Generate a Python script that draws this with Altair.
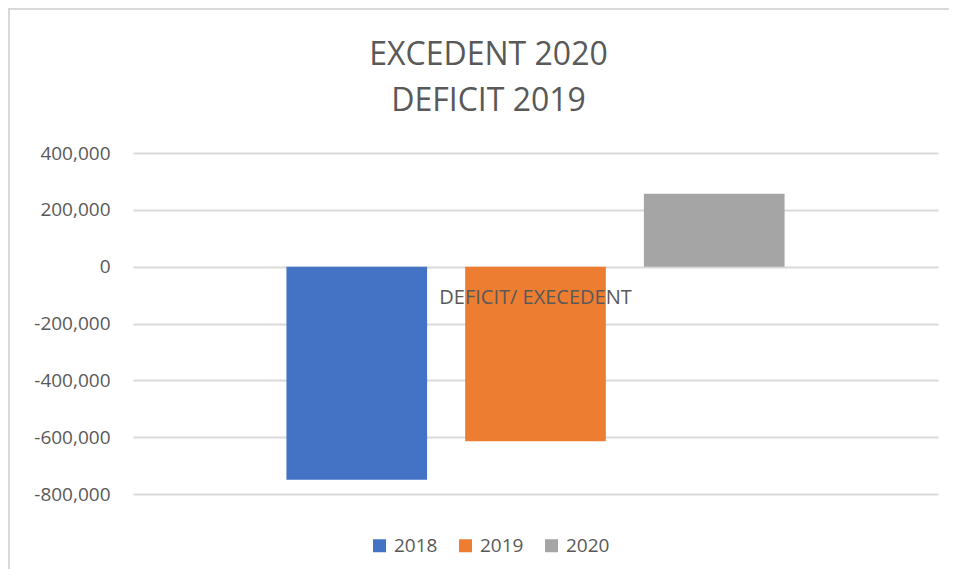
import altair as alt
import pandas as pd

# ---- data ----
years = ["2018", "2019", "2020"]
values = [-750000, -614000, 257000]
category = "DEFICIT/ EXECEDENT"
colors = ["#4472C4", "#ED7D31", "#A5A5A5"]
title_lines = ["EXCEDENT 2020", "DEFICIT 2019"]
y_ticks = [-800000, -600000, -400000, -200000, 0, 200000, 400000]

df = pd.DataFrame({"category": [category] * len(years), "year": years, "value": values})
label_df = pd.DataFrame({"category": [category]})
frame_df = pd.DataFrame({"k": [0]})

FONT = "Open Sans"
GREY = "#595959"
GRID = "#d9d9d9"

PAD_L, PAD_T, PAD_R, PAD_B = 125, 145, 11, 75
W, H = 805, 341

bars = alt.Chart(df).mark_bar().encode(
    x=alt.X("category:N", scale=alt.Scale(paddingInner=0, paddingOuter=0.308), axis=None),
    xOffset=alt.XOffset("year:N", sort=years, scale=alt.Scale(paddingInner=0.213, paddingOuter=0)),
    y=alt.Y(
        "value:Q",
        scale=alt.Scale(domain=[-800000, 400000], nice=False, zero=False),
        axis=alt.Axis(
            values=y_ticks, title=None, domain=False, ticks=False,
            labelExpr="replace(format(datum.value, ',.0f'), '\u2212', '-')",
            labelPadding=23, labelFontSize=19, labelColor=GREY, labelFont=FONT,
            gridColor=GRID, gridWidth=2,
        ),
    ),
    color=alt.Color(
        "year:N",
        scale=alt.Scale(domain=years, range=colors),
        legend=alt.Legend(
            title=None, orient="none", legendX=237, legendY=383, direction="horizontal",
            symbolType="square", symbolSize=169, symbolStrokeWidth=0,
            labelFontSize=19, labelColor=GREY, labelFont=FONT,
            columnPadding=18, labelOffset=5,
        ),
    ),
)

cat_label = alt.Chart(label_df).mark_text(
    dy=31, baseline="middle", align="center", fontSize=20, font=FONT, color=GREY
).encode(
    x=alt.X("category:N"),
    y=alt.datum(0),
    text="category:N",
)

frame_left = alt.Chart(frame_df).mark_rule(color=GRID, strokeWidth=2).encode(
    x=alt.value(1 - PAD_L), y=alt.value(-PAD_T), y2=alt.value(H + PAD_B)
)
frame_top = alt.Chart(frame_df).mark_rule(color=GRID, strokeWidth=2).encode(
    x=alt.value(-PAD_L), x2=alt.value(W + PAD_R), y=alt.value(1 - PAD_T)
)

chart = alt.layer(bars, cat_label, frame_left, frame_top).properties(
    width=W,
    height=H,
    autosize=alt.AutoSizeParams(type="none"),
    padding={"left": PAD_L, "top": PAD_T, "right": PAD_R, "bottom": PAD_B},
    title=alt.TitleParams(
        text=title_lines, fontSize=32, font=FONT, color=GREY, fontWeight="normal",
        anchor="middle", dx=-47, offset=0, dy=143, lineHeight=46, baseline="bottom",
    ),
).configure_view(stroke=None)

chart.save("out.html", embed_options={"renderer": "svg", "actions": False})
